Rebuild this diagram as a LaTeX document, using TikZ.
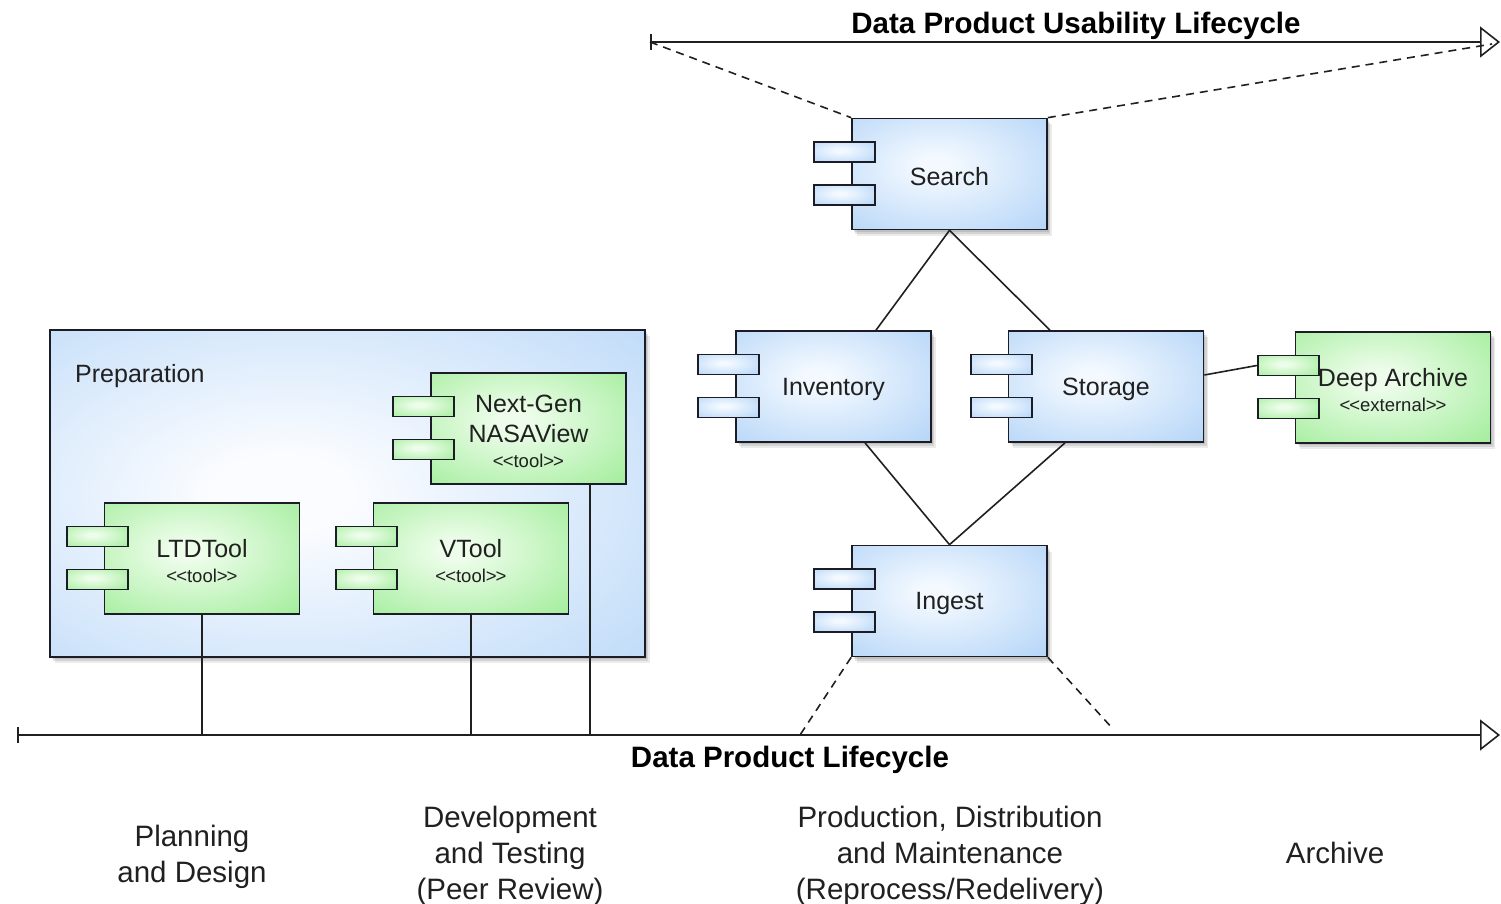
\documentclass[tikz,border=0pt]{standalone}
\usepackage{fontspec}
\setmainfont{Liberation Sans}
\usetikzlibrary{arrows.meta,shadows}

\definecolor{bluein}{HTML}{F3F9FF}
\definecolor{blueout}{HTML}{A0C9F5}
\definecolor{greenin}{HTML}{EEFDEB}
\definecolor{greenout}{HTML}{8AE882}
\definecolor{prepin}{HTML}{FAFCFF}
\definecolor{prepout}{HTML}{A8CEF6}
\definecolor{edge}{HTML}{1C1C26}
\definecolor{ink}{HTML}{202020}

% soft glow fills for the component boxes
\pgfdeclareradialshading{blueglow}{\pgfpoint{-4bp}{4bp}}{color(0bp)=(bluein); color(4bp)=(bluein); color(50bp)=(blueout); color(90bp)=(blueout)}
\pgfdeclareradialshading{greenglow}{\pgfpoint{-4bp}{4bp}}{color(0bp)=(greenin); color(4bp)=(greenin); color(50bp)=(greenout); color(90bp)=(greenout)}
\pgfdeclareradialshading{prepglow}{\pgfpoint{-6bp}{0bp}}{color(0bp)=(prepin); color(6bp)=(prepin); color(52bp)=(prepout); color(90bp)=(prepout)}

\newcommand{\compfont}{\fontsize{25}{30}\selectfont}
\newcommand{\tagfont}{\fontsize{18.5}{22}\selectfont}
\newcommand{\phasefont}{\fontsize{29.5}{36}\selectfont}
\newcommand{\tagtext}[1]{{\tagfont\textless\kern-1pt\textless\kern0pt #1\kern0pt\textgreater\kern-1pt\textgreater}}

% a UML component: body, the two port tabs on its left edge, then its label
\newcommand{\umlpart}[5]{%
  \node[part, shade, shading=#3glow, #4] (#1) at (#2) {};
  \node[stub, shade, shading=#3glow] (#1-a) at ([xshift=-6.5pt,yshift=22pt]#1.west) {};
  \node[stub, shade, shading=#3glow] (#1-b) at ([xshift=-6.5pt,yshift=-21pt]#1.west) {};
  \node[partlabel] (#1-text) at (#1.center) {#5};
}

\tikzset{
  softshadow/.style={
    drop shadow={shadow xshift=1.5pt, shadow yshift=-2pt, fill=black, opacity=0.10},
    drop shadow={shadow xshift=3pt, shadow yshift=-4pt, fill=black, opacity=0.10},
    drop shadow={shadow xshift=4.5pt, shadow yshift=-6pt, fill=black, opacity=0.08}},
  part/.style={draw=edge, line width=1.7pt, inner sep=0pt,
    minimum width=195pt, minimum height=111pt},
  partlabel/.style={align=center, font=\compfont, text=ink, inner sep=0pt, yshift=-2.5pt},
  stub/.style={draw=edge, line width=1.7pt, inner sep=0pt,
    minimum width=61pt, minimum height=20pt},
  link/.style={draw=ink, line width=1.6pt},
  dashline/.style={draw=ink, line width=1.6pt, dash pattern=on 8pt off 6pt},
  axis/.style={draw=ink, line width=1.6pt,
    {Bar[width=16pt,line width=1.6pt]}-{Triangle[open,length=20pt,width=31pt,line width=1.6pt]}},
  title/.style={font=\fontsize{29.5}{34}\selectfont\bfseries, text=black, inner sep=0pt, yshift=-3pt},
  phase/.style={font=\phasefont, align=center, text=ink, inner sep=0pt, yshift=-3pt},
}

\begin{document}
\begin{tikzpicture}[x=1pt,y=-1pt]
\useasboundingbox (0,0) rectangle (1501,904);

% preparation container
\node[draw=edge, line width=1.7pt, shade, shading=prepglow, softshadow,
      minimum width=595pt, minimum height=327pt, inner sep=0pt]
      (prep) at (347.5,493.5) {};
\node[anchor=west, font=\compfont, text=ink, inner sep=0pt, yshift=-3pt] (preplabel) at (75,373) {Preparation};

% tools inside the preparation box
\umlpart{nasaview}{528.5,428.5}{green}{}{Next-Gen\\NASAView\\[-5pt]\tagtext{tool}}
\umlpart{ltdtool}{202,558.5}{green}{}{LTDTool\\[-5pt]\tagtext{tool}}
\umlpart{vtool}{471,558.5}{green}{}{VTool\\[-5pt]\tagtext{tool}}

% archive components
\umlpart{search}{949.5,174}{blue}{softshadow}{Search}
\umlpart{inventory}{833.5,386.5}{blue}{softshadow}{Inventory}
\umlpart{storage}{1106,386.5}{blue}{softshadow}{Storage}
\umlpart{ingest}{949.5,601}{blue}{softshadow}{Ingest}
\umlpart{deeparchive}{1393,387.5}{green}{softshadow}{Deep Archive\\[-5pt]\tagtext{external}}

% usability lifecycle axis
\coordinate (u0) at (650,42);
\coordinate (u1) at (1500,42);
\coordinate (uend) at (1492,44);
\draw[axis] (u0) -- (u1);
\node[title] (usetitle) at (1076,23) {Data Product Usability Lifecycle};
\draw[dashline] (u0) -- (search.north west);
\draw[dashline] (search.north east) -- (uend);

% product lifecycle axis
\coordinate (a0) at (17,735);
\coordinate (a1) at (1500,735);
\coordinate (ingl) at (800,735);
\coordinate (ingr) at (1113,729);
\draw[axis] (a0) -- (a1);
\node[title] (lifetitle) at (790,757) {Data Product Lifecycle};
\draw[dashline] (ingest.south west) -- (ingl);
\draw[dashline] (ingest.south east) -- (ingr);

% links between components
\draw[link] (search.south) -- ([xshift=42.5pt]inventory.north);
\draw[link] (search.south) -- ([xshift=-56pt]storage.north);
\draw[link] ([xshift=31.5pt]inventory.south) -- (ingest.north);
\draw[link] ([xshift=-41pt]storage.south) -- (ingest.north);
\draw[link] ([yshift=11.5pt]storage.east) -- (deeparchive-a.west);

% tools hooked onto the product lifecycle
\draw[link] (ltdtool.south) -- (ltdtool.south |- a0);
\draw[link] (vtool.south) -- (vtool.south |- a0);
\coordinate (nasafoot) at ([xshift=61.5pt]nasaview.south);
\draw[link] (nasafoot) -- (nasafoot |- a0);

% lifecycle phases
\node[phase] (plan) at (192,854) {Planning\\and Design};
\node[phase] (dev) at (510,853) {Development\\and Testing\\(Peer Review)};
\node[phase] (prod) at (950,853) {Production, Distribution\\and Maintenance\\(Reprocess/Redelivery)};
\node[phase] (arch) at (1335,850) {Archive};
\end{tikzpicture}
\end{document}
